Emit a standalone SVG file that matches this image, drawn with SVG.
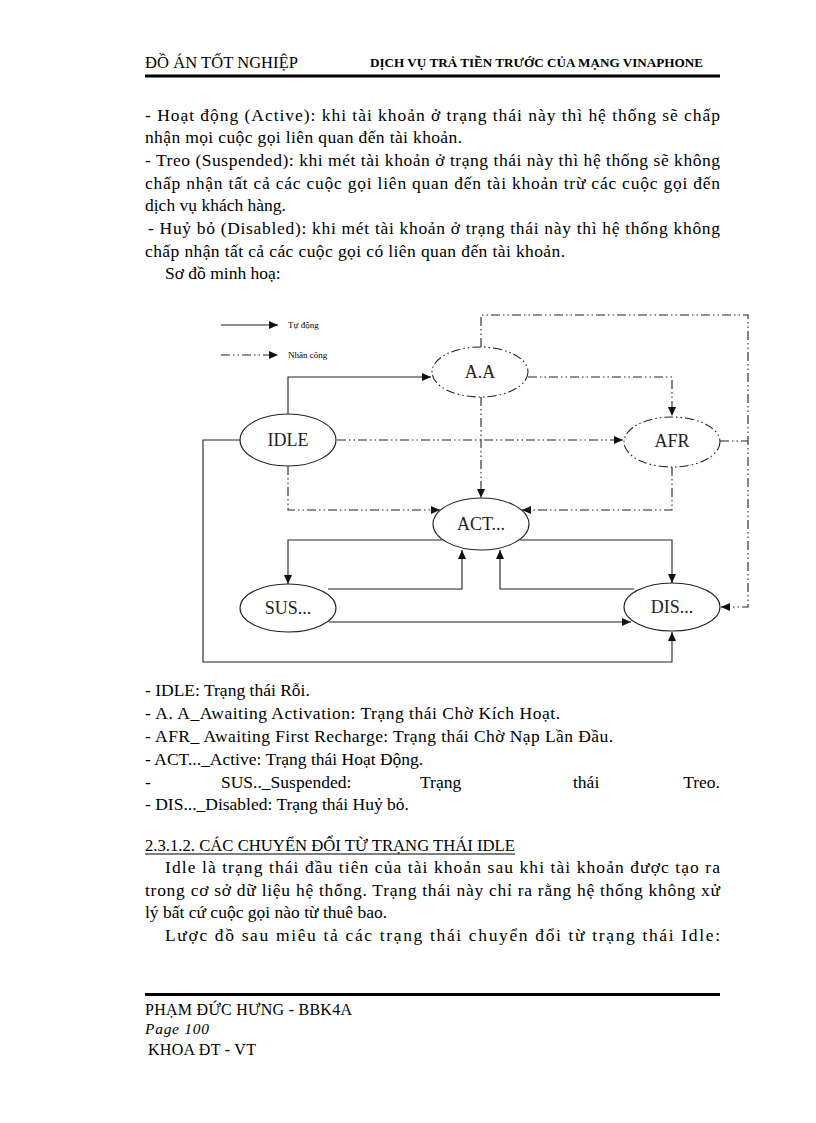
<svg xmlns="http://www.w3.org/2000/svg" width="816" height="1123" viewBox="0 0 816 1123">
<style>
.t{font-family:"Liberation Serif","Times New Roman",serif;font-size:17.5px;fill:#000}
.h{font-family:"Liberation Serif","Times New Roman",serif;fill:#000}
.s{fill:none;stroke:#222;stroke-width:1.1}
.d{fill:none;stroke:#222;stroke-width:1.1;stroke-dasharray:9 3 1.5 3 1.5 3}
.n{fill:#fff;stroke:#222;stroke-width:1.1}
.nd{fill:#fff;stroke:#222;stroke-width:1.1;stroke-dasharray:9 3 1.5 3 1.5 3}
.lbl{font-family:"Liberation Serif","Times New Roman",serif;font-size:18px;fill:#222;text-anchor:middle}
.leg{font-family:"Liberation Serif","Times New Roman",serif;font-size:9px;fill:#000}
</style>
<defs>
<marker id="ar" markerUnits="userSpaceOnUse" markerWidth="10" markerHeight="8" refX="9" refY="4" orient="auto">
<path d="M0,0 L9,4 L0,8 z" fill="#111"/>
</marker>
</defs>
<rect width="816" height="1123" fill="#fff"/>

<g id="header">
<text class="h" x="145" y="68" font-size="16.5" textLength="153" lengthAdjust="spacing">ĐỒ ÁN TỐT NGHIỆP</text>
<text class="h" x="370" y="67" font-size="11.5" font-weight="bold" textLength="333" lengthAdjust="spacingAndGlyphs">DỊCH VỤ TRẢ TIỀN TRƯỚC CỦA MẠNG VINAPHONE</text>
<rect x="145" y="74.5" width="575" height="3" fill="#000"/>
</g>

<g id="body-top">
<text class="t" x="145" y="121" textLength="575" lengthAdjust="spacing">- Hoạt động (Active): khi tài khoản ở trạng thái này thì hệ thống sẽ chấp</text>
<text class="t" x="145" y="143" textLength="317" lengthAdjust="spacing">nhận mọi cuộc gọi liên quan đến tài khoản.</text>
<text class="t" x="145" y="166" textLength="575" lengthAdjust="spacing">- Treo (Suspended): khi mét tài khoản ở trạng thái này thì hệ thống sẽ không</text>
<text class="t" x="145" y="189" textLength="575" lengthAdjust="spacing">chấp nhận tất cả các cuộc gọi liên quan đến tài khoản trừ các cuộc gọi đến</text>
<text class="t" x="145" y="211">dịch vụ khách hàng.</text>
<text class="t" x="148" y="234" textLength="572" lengthAdjust="spacing">- Huỷ bỏ (Disabled): khi mét tài khoản ở trạng thái này thì hệ thống không</text>
<text class="t" x="145" y="257" textLength="420" lengthAdjust="spacing">chấp nhận tất cả các cuộc gọi có liên quan đến tài khoản.</text>
<text class="t" x="165" y="279">Sơ đồ minh hoạ:</text>
</g>

<g id="legend">
<path class="s" d="M221,325 H278" marker-end="url(#ar)"/>
<text class="leg" x="288" y="328">Tự động</text>
<path class="d" d="M221,355 H278" marker-end="url(#ar)"/>
<text class="leg" x="288" y="358">Nhân công</text>
</g>

<g id="connectors">
<path class="s" d="M288,414 V377 H431" marker-end="url(#ar)"/>
<path class="s" d="M442,540 H288 V584" marker-end="url(#ar)"/>
<path class="s" d="M328,589 H462 V550" marker-end="url(#ar)"/>
<path class="s" d="M329,622 H631" marker-end="url(#ar)"/>
<path class="s" d="M634,589 H500 V550" marker-end="url(#ar)"/>
<path class="s" d="M520,540 H672 V583" marker-end="url(#ar)"/>
<path class="s" d="M240,440 H203 V662 H672 V632" marker-end="url(#ar)"/>
<path class="d" d="M337,440 H623" marker-end="url(#ar)"/>
<path class="d" d="M528,377 H672 V416" marker-end="url(#ar)"/>
<path class="d" d="M481,397 V498" marker-end="url(#ar)"/>
<path class="d" d="M288,466 V510 H440" marker-end="url(#ar)"/>
<path class="d" d="M672,467 V510 H522" marker-end="url(#ar)"/>
<path class="d" d="M481,347 V315 H748 V607 H721" marker-end="url(#ar)"/>
<path class="d" d="M720,441 H748"/>
</g>

<g id="node-AA">
<ellipse class="nd" cx="480" cy="372" rx="48" ry="25"/>
<text class="lbl" x="480" y="378">A.A</text>
</g>
<g id="node-IDLE">
<ellipse class="n" cx="288" cy="440" rx="48" ry="26"/>
<text class="lbl" x="288" y="446">IDLE</text>
</g>
<g id="node-AFR">
<ellipse class="nd" cx="672" cy="442" rx="48" ry="25"/>
<text class="lbl" x="672" y="447">AFR</text>
</g>
<g id="node-ACT">
<ellipse class="n" cx="481" cy="524" rx="48" ry="26"/>
<text class="lbl" x="481" y="530">ACT...</text>
</g>
<g id="node-SUS">
<ellipse class="n" cx="288" cy="608" rx="48" ry="24"/>
<text class="lbl" x="288" y="614">SUS...</text>
</g>
<g id="node-DIS">
<ellipse class="n" cx="672" cy="607" rx="48" ry="24"/>
<text class="lbl" x="672" y="613">DIS...</text>
</g>

<g id="definitions">
<text class="t" x="145" y="696">- IDLE: Trạng thái Rỗi.</text>
<text class="t" x="145" y="719" textLength="415" lengthAdjust="spacing">- A. A_Awaiting  Activation: Trạng thái Chờ Kích Hoạt.</text>
<text class="t" x="145" y="742" textLength="468" lengthAdjust="spacing">- AFR_ Awaiting  First Recharge: Trạng thái Chờ Nạp Lần Đầu.</text>
<text class="t" x="145" y="765">- ACT..._Active: Trạng thái Hoạt Động.</text>
<text class="t" x="145" y="788">-</text>
<text class="t" x="221" y="788">SUS.._Suspended:</text>
<text class="t" x="420" y="788">Trạng</text>
<text class="t" x="573" y="788">thái</text>
<text class="t" x="720" y="788" text-anchor="end">Treo.</text>
<text class="t" x="145" y="810">- DIS..._Disabled: Trạng thái Huỷ bỏ.</text>
</g>

<g id="section">
<text class="h" x="145" y="851" font-size="16" textLength="370" lengthAdjust="spacingAndGlyphs">2.3.1.2. CÁC CHUYỂN ĐỔI TỪ TRẠNG THÁI IDLE</text>
<rect x="145" y="853.5" width="370" height="1" fill="#000"/>
<text class="t" x="165" y="873" textLength="555" lengthAdjust="spacing">Idle là trạng thái đầu tiên của tài khoản sau khi tài khoản được tạo ra</text>
<text class="t" x="145" y="896" textLength="575" lengthAdjust="spacing">trong cơ sở dữ liệu hệ thống. Trạng thái này chỉ ra rằng hệ thống không xử</text>
<text class="t" x="145" y="918">lý bất cứ cuộc gọi nào từ thuê bao.</text>
<text class="t" x="165" y="941" textLength="555" lengthAdjust="spacing">Lược đồ sau miêu tả các trạng thái chuyển đổi từ trạng thái Idle:</text>
</g>

<g id="footer">
<rect x="145" y="993" width="575" height="3" fill="#000"/>
<text class="h" x="145" y="1015" font-size="16" textLength="207" lengthAdjust="spacing">PHẠM ĐỨC HƯNG - BBK4A</text>
<text class="h" x="145" y="1034" font-size="15.5" font-style="italic" textLength="64" lengthAdjust="spacing">Page  100</text>
<text class="h" x="148" y="1055" font-size="16" textLength="108" lengthAdjust="spacing">KHOA ĐT - VT</text>
</g>
</svg>
